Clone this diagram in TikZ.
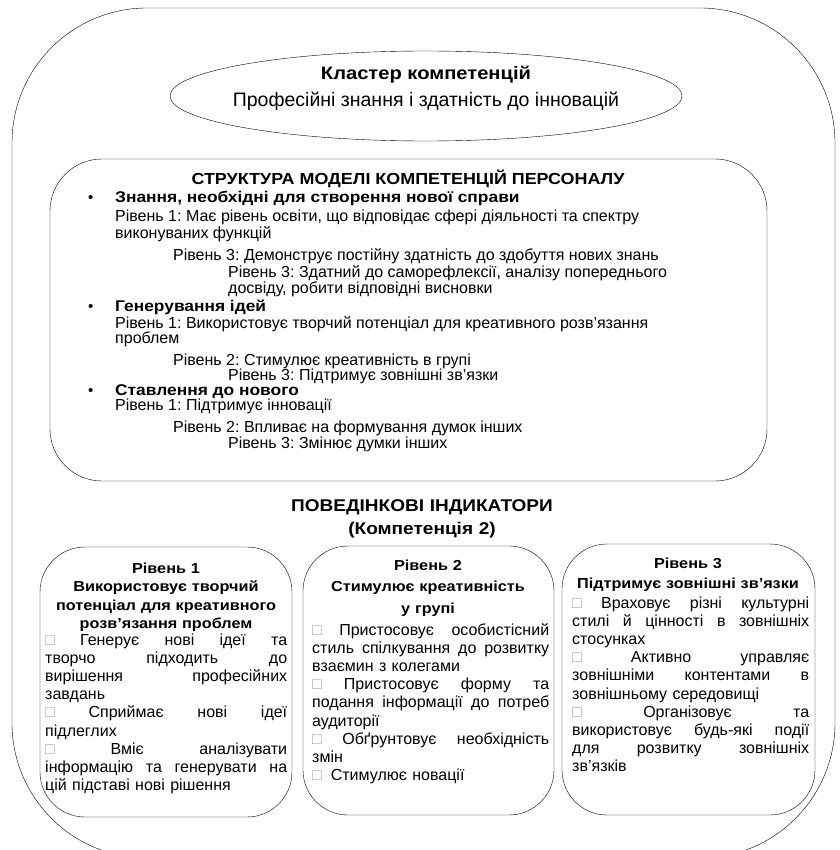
\documentclass[tikz,border=0pt]{standalone}
\usepackage{fontspec}
\setmainfont{Liberation Sans}[BoldFeatures={FakeStretch=1.12}]
\usetikzlibrary{shapes.geometric}
\frenchspacing
\hyphenpenalty=10000
\exhyphenpenalty=10000
\newlength{\colw}
\newcommand{\sq}{{\color{black!35}\symbol{"25A1}}}
\newcommand{\jline}[1]{\leavevmode\hbox to \colw{\spaceskip=0pt\xspaceskip=0pt\relax #1}\\}
\newcommand{\rowline}[4]{
	\node[anchor=base west, inner sep=0pt, font=\fontsize{16}{17}\selectfont] (#1) at (#2,#3) {#4};
}
\newcommand{\bulletline}[3]{
	\node[anchor=base west, inner sep=0pt, font=\fontsize{15}{17}\selectfont] at (88,#2) {•};
	\node[anchor=base west, inner sep=0pt, font=\bfseries\fontsize{15.5}{17}\selectfont] (#1) at (115,#2) {#3};
}

\begin{document}
\begin{tikzpicture}[x=1pt,y=-1pt,
	levelbox/.style={draw, rounded corners=45pt},
	boxtitle/.style={anchor=base, inner sep=0pt, text width=250pt, align=center, font=\bfseries\fontsize{14.5}{18.5}\selectfont},
	boxbody/.style={anchor=base west, inner sep=0pt, text width=#1, align=left, font=\fontsize{16}{18.2}\selectfont, execute at begin node={\setlength{\colw}{#1}}}]
	\useasboundingbox (0,0) rectangle (839,850);
	\begin{scope}
	\clip (0,0) rectangle (839,850);
	\draw[rounded corners=135pt] (12,8) rectangle (835,858);
	\end{scope}

	\node[draw, ellipse, minimum width=512pt, minimum height=90pt, inner sep=0pt] (cluster) at (426,96) {};
	\node[anchor=base, inner sep=0pt, font=\bfseries\fontsize{18}{20}\selectfont] (clustername) at (426,80) {Кластер компетенцій};
	\node[anchor=base, inner sep=0pt, font=\fontsize{19.5}{20}\selectfont] (clustertext) at (426,107) {Професійні знання і здатність до інновацій};

	\draw[rounded corners=52pt] (50,159) rectangle (767,481);
	\node[anchor=base, inner sep=0pt, font=\bfseries\fontsize{16}{18}\selectfont] (structure) at (408,185) {СТРУКТУРА МОДЕЛІ КОМПЕТЕНЦІЙ ПЕРСОНАЛУ};
	\bulletline{knowledge}{203}{Знання, необхідні для створення нової справи}
	\rowline{kA}{115}{222}{Рівень 1: Має рівень освіти, що відповідає сфері діяльності та спектру}
	\rowline{kB}{115}{238}{виконуваних функцій}
	\rowline{kC}{173}{260}{Рівень 3: Демонструє постійну здатність до здобуття нових знань}
	\rowline{kD}{228}{277}{Рівень 3: Здатний до саморефлексії, аналізу попереднього}
	\rowline{kE}{228}{293}{досвіду, робити відповідні висновки}
	\bulletline{ideas}{311}{Генерування ідей}
	\rowline{iA}{115}{328}{Рівень 1: Використовує творчий потенціал для креативного розв’язання}
	\rowline{iB}{115}{343}{проблем}
	\rowline{iC}{173}{365}{Рівень 2: Стимулює креативність в групі}
	\rowline{iD}{228}{380}{Рівень 3: Підтримує зовнішні зв’язки}
	\bulletline{attitude}{395}{Ставлення до нового}
	\rowline{aA}{115}{410}{Рівень 1: Підтримує інновації}
	\rowline{aB}{173}{432}{Рівень 2: Впливає на формування думок інших}
	\rowline{aC}{228}{448}{Рівень 3: Змінює думки інших}

	\node[anchor=base, inner sep=0pt, text width=400pt, align=center, font=\bfseries\fontsize{17}{23}\selectfont] (indicators) at (422,511) {ПОВЕДІНКОВІ ІНДИКАТОРИ\\(Компетенція 2)};

	\draw[levelbox] (40,547) rectangle (292,817);
	\draw[levelbox] (303,546) rectangle (554,815);
	\draw[levelbox] (562,544) rectangle (815,815);

	\node[boxtitle] (levelA) at (166,573) {Рівень 1\\Використовує творчий\\потенціал для креативного\\розв’язання проблем};
	\node[boxbody=242pt] (levelAtext) at (45,645) {\jline{\sq\ Генерує нові ідеї та}\jline{творчо підходить до}\jline{вирішення професійних}завдань\\\jline{\sq\ Сприймає нові ідеї}підлеглих\\\jline{\sq\ Вміє аналізувати}\jline{інформацію та генерувати на}цій підставі нові рішення};

	\node[boxtitle, font=\bfseries\fontsize{14.5}{21.5}\selectfont] (levelB) at (428,570) {Рівень 2\\Стимулює креативність\\у групі};
	\node[boxbody=237pt] (levelBtext) at (312,635) {\jline{\sq\ Пристосовує особистісний}\jline{стиль спілкування до розвитку}взаємин з колегами\\\jline{\sq\ Пристосовує форму та}\jline{подання інформації до потреб}аудиторії\\\jline{\sq\ Обґрунтовує необхідність}змін\\\sq\hspace{9pt}Стимулює новації};

	\node[boxtitle, font=\bfseries\fontsize{14.5}{20}\selectfont] (levelC) at (688,568) {Рівень 3\\Підтримує зовнішні зв’язки};
	\node[boxbody=237pt] (levelCtext) at (572,608) {\jline{\sq\ Враховує різні культурні}\jline{стилі й цінності в зовнішніх}стосунках\\\jline{\sq\ Активно управляє}\jline{зовнішніми контентами в}зовнішньому середовищі\\\jline{\sq\ Організовує та}\jline{використовує будь-які події}\jline{для розвитку зовнішніх}зв’язків};
\end{tikzpicture}
\end{document}
